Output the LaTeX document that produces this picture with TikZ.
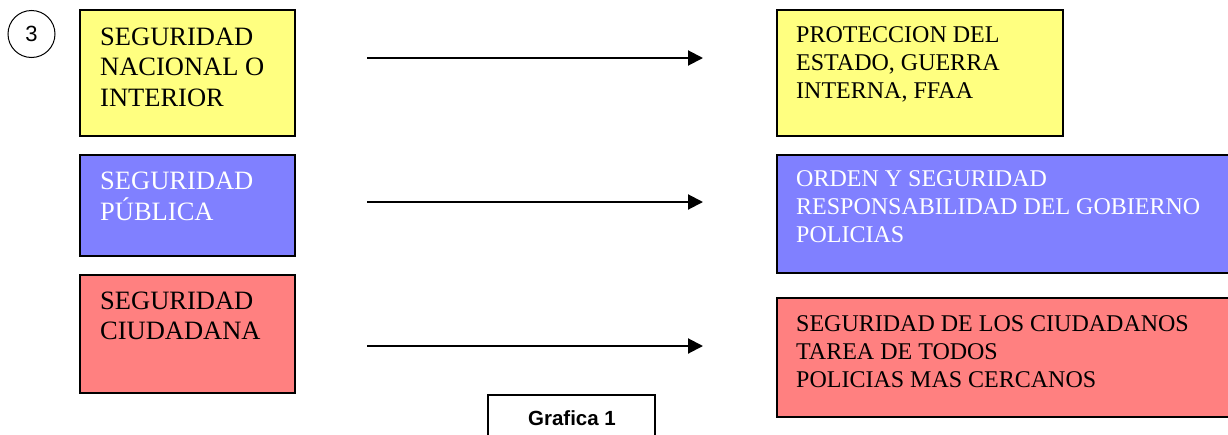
\documentclass[tikz,border=0pt]{standalone}
\usepackage{fontspec}
\setmainfont{Liberation Serif}
\newfontfamily\arialfont{Liberation Sans}
\usetikzlibrary{arrows.meta}
\definecolor{cyel}{RGB}{255,255,128}
\definecolor{cblu}{RGB}{128,128,255}
\definecolor{cred}{RGB}{255,128,128}
\newcommand\bigtxt{\fontsize{26.5pt}{30.5pt}\selectfont}
\newcommand\smtxt{\fontsize{24pt}{28pt}\selectfont}
\newcommand\mlines[1]{\begin{tabular}[t]{@{}l@{}}#1\end{tabular}}
\tikzset{
  box/.style={draw=black, line width=2pt, rectangle, inner sep=0pt},
  ltxt/.style={anchor=base west, inner sep=0pt, font=\bigtxt},
  rtxt/.style={anchor=base west, inner sep=0pt, font=\smtxt},
  arr/.style={line width=2pt, -{Triangle[length=15pt,width=15pt]}},
}
\begin{document}
\begin{tikzpicture}[x=1pt,y=-1pt]
\useasboundingbox (0,0) rectangle (1228,434);
% circle
\node[circle, draw, line width=1pt, minimum size=47pt, inner sep=0pt, font=\arialfont\fontsize{22pt}{26pt}\selectfont] (c3) at (31.5,34) {3};
% left boxes
\node[box, fill=cyel, minimum width=215pt, minimum height=126pt] (l1) at (187.5,73) {};
\node[box, fill=cblu, minimum width=215pt, minimum height=101pt] (l2) at (187.5,205.5) {};
\node[box, fill=cred, minimum width=215pt, minimum height=118pt] (l3) at (187.5,334) {};
% right boxes
\node[box, fill=cyel, minimum width=286pt, minimum height=126pt] (r1) at (920,73) {};
\node[box, fill=cblu, minimum width=462pt, minimum height=118pt] (r2) at (1008,214) {};
\node[box, fill=cred, minimum width=462pt, minimum height=119pt] (r3) at (1008,357.5) {};
% texts
\node[ltxt] (t1) at (100,45) {\mlines{SEGURIDAD\\NACIONAL O\\INTERIOR}};
\node[ltxt, text=white] (t2) at (100,189) {\mlines{SEGURIDAD\\PÚBLICA}};
\node[ltxt] (t3) at (100,309) {\mlines{SEGURIDAD\\CIUDADANA}};
\node[rtxt] (u1) at (796,42) {\mlines{PROTECCION DEL\\ESTADO, GUERRA\\INTERNA, FFAA}};
\node[rtxt, text=white] (u2) at (796,186) {\mlines{ORDEN Y SEGURIDAD\\RESPONSABILIDAD DEL GOBIERNO\\POLICIAS}};
\node[rtxt] (u3) at (796,331) {\mlines{SEGURIDAD DE LOS CIUDADANOS\\TAREA DE TODOS\\POLICIAS MAS CERCANOS}};
% arrows
\coordinate (a1s) at (367,58); \coordinate (a1e) at (703,58);
\coordinate (a2s) at (367,202); \coordinate (a2e) at (703,202);
\coordinate (a3s) at (367,346); \coordinate (a3e) at (703,346);
\draw[arr] (a1s) -- (a1e);
\draw[arr] (a2s) -- (a2e);
\draw[arr] (a3s) -- (a3e);
% grafica
\node[box, fill=white, minimum width=167pt, minimum height=60pt, anchor=north] (g) at (571.5,394) {};
\node[anchor=base, inner sep=0pt, font=\arialfont\bfseries\fontsize{20.5pt}{24pt}\selectfont] (gt) at (572,425) {Grafica 1};
\end{tikzpicture}
\end{document}
